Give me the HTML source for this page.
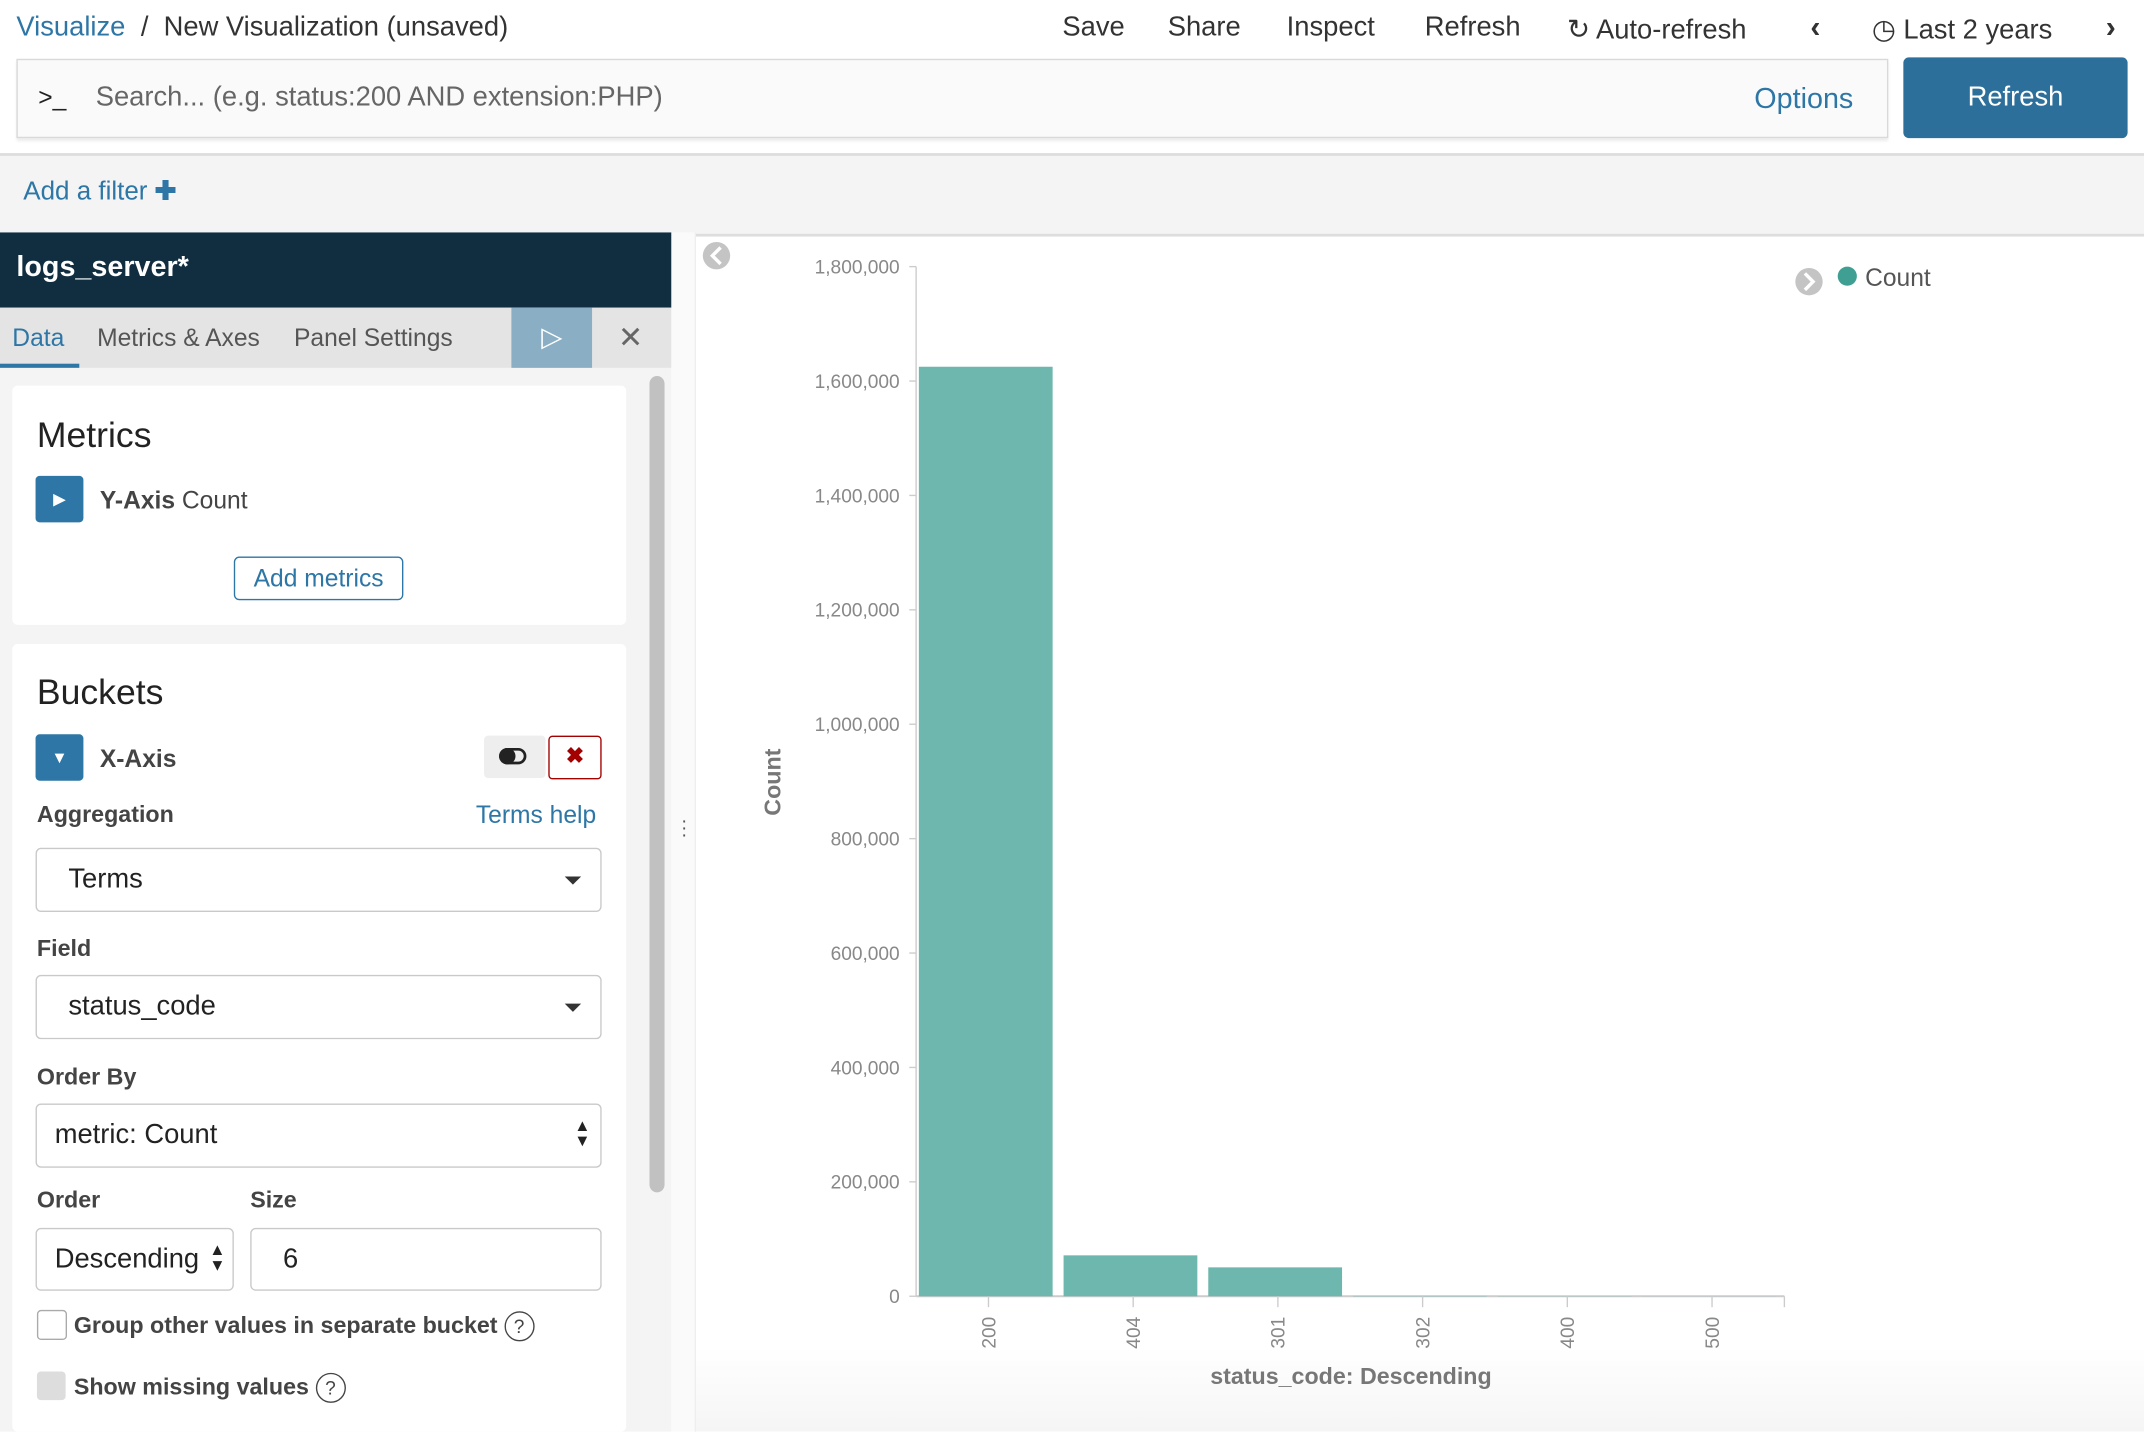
<!DOCTYPE html>
<html><head><meta charset="utf-8">
<style>
html,body{margin:0;padding:0;width:2144px;height:1432px;overflow:hidden;background:#fff}
#root{position:absolute;left:0;top:0;width:1568px;height:1047px;transform:scale(1.36735);transform-origin:0 0;font-family:"Liberation Sans",sans-serif;color:#333;background:#fff}
.a{position:absolute;white-space:nowrap}
.blue{color:#2d76a6}
.lbl{font-weight:bold;font-size:17px;color:#444}
.sel{position:absolute;border:1px solid #c9c9c9;border-radius:4px;background:#fff;font-size:20px;color:#222;box-sizing:border-box}
.caret{position:absolute;width:0;height:0;border-left:6px solid transparent;border-right:6px solid transparent;border-top:6px solid #333}
</style></head><body>
<div id="root">
  <!-- top bar -->
  <div class="a blue" style="left:12px;top:9px;font-size:20px">Visualize</div>
  <div class="a" style="left:103px;top:9px;font-size:20px;color:#333">/&nbsp; New Visualization (unsaved)</div>
  <div class="a" style="left:777px;top:9px;font-size:20px">Save</div>
  <div class="a" style="left:854px;top:9px;font-size:20px">Share</div>
  <div class="a" style="left:941px;top:9px;font-size:20px">Inspect</div>
  <div class="a" style="left:1042px;top:9px;font-size:20px">Refresh</div>
  <div class="a" style="left:1146px;top:9px;font-size:20px">&#8635; Auto-refresh</div>
  <div class="a" style="left:1324px;top:7px;font-size:22px;font-weight:bold">&#8249;</div>
  <div class="a" style="left:1369px;top:9px;font-size:20px">&#9719; Last 2 years</div>
  <div class="a" style="left:1540px;top:7px;font-size:22px;font-weight:bold">&#8250;</div>
  <!-- search -->
  <div class="a" style="left:12px;top:43px;width:1367px;height:56px;border:1px solid #d9d9d9;background:#fafafa;box-shadow:0 2px 2px rgba(0,0,0,.08)"></div>
  <div class="a" style="left:28px;top:61px;font-size:18px;color:#222">&gt;_</div>
  <div class="a" style="left:70px;top:60px;font-size:20px;color:#666">Search... (e.g. status:200 AND extension:PHP)</div>
  <div class="a blue" style="left:1283px;top:61px;font-size:21px">Options</div>
  <div class="a" style="left:1392px;top:42px;width:164px;height:59px;background:#2d6f9b;border-radius:4px;color:#fff;font-size:20px;text-align:center;line-height:59px">Refresh</div>
  <!-- filter bar -->
  <div class="a" style="left:0;top:112px;width:1568px;height:57px;background:#f4f4f4;border-top:2px solid #ddd;border-bottom:2px solid #ddd"></div>
  <div class="a blue" style="left:17px;top:129px;font-size:19px">Add a filter <b>&#10010;</b></div>
  <!-- sidebar -->
  <div class="a" style="left:0;top:170px;width:491px;height:877px;background:#f4f4f4"></div>
  <div class="a" style="left:0;top:170px;width:491px;height:55px;background:#112e40"></div>
  <div class="a" style="left:12px;top:184px;font-size:21px;font-weight:bold;color:#fff">logs_server*</div>
  <div class="a" style="left:0;top:225px;width:491px;height:44px;background:#e4e4e4"></div>
  <div class="a blue" style="left:9px;top:237px;font-size:18px">Data</div>
  <div class="a" style="left:0;top:266px;width:58px;height:3px;background:#2d76a6"></div>
  <div class="a" style="left:71px;top:237px;font-size:18px;color:#555">Metrics &amp; Axes</div>
  <div class="a" style="left:215px;top:237px;font-size:18px;color:#555">Panel Settings</div>
  <div class="a" style="left:374px;top:225px;width:59px;height:44px;background:#8aaec4;color:#fff;font-size:20px;text-align:center;line-height:44px">&#9655;</div>
  <div class="a" style="left:452px;top:234px;font-size:22px;color:#666">&#10005;</div>
  <div class="a" style="left:475px;top:275px;width:11px;height:597px;background:#c1c1c1;border-radius:6px"></div>
  <!-- metrics panel -->
  <div class="a" style="left:9px;top:282px;width:449px;height:175px;background:#fff;border-radius:4px"></div>
  <div class="a" style="left:27px;top:303px;font-size:26px;color:#222">Metrics</div>
  <div class="a" style="left:26px;top:348px;width:35px;height:34px;background:#2d76a6;border-radius:3px;color:#fff;text-align:center;line-height:34px;font-size:12px">&#9654;</div>
  <div class="a" style="left:73px;top:356px;font-size:18px;color:#444"><b>Y-Axis</b> Count</div>
  <div class="a" style="left:171px;top:407px;width:122px;height:30px;border:1px solid #2d76a6;border-radius:4px;color:#2d76a6;font-size:18px;text-align:center;line-height:30px">Add metrics</div>
  <!-- buckets panel -->
  <div class="a" style="left:9px;top:471px;width:449px;height:576px;background:#fff;border-radius:4px"></div>
  <div class="a" style="left:27px;top:491px;font-size:26px;color:#222">Buckets</div>
  <div class="a" style="left:26px;top:537px;width:35px;height:34px;background:#2d76a6;border-radius:3px;color:#fff;text-align:center;line-height:34px;font-size:12px">&#9660;</div>
  <div class="a lbl" style="left:73px;top:545px;font-size:18px">X-Axis</div>
  <div class="a" style="left:354px;top:538px;width:45px;height:31px;background:#eee;border-radius:3px"><div style="position:absolute;left:11px;top:9px;width:20px;height:12px;border:2px solid #222;border-radius:8px;box-sizing:border-box"></div><div style="position:absolute;left:11px;top:9px;width:12px;height:12px;background:#222;border-radius:6px"></div></div>
  <div class="a" style="left:401px;top:538px;width:37px;height:30px;border:1px solid #a30000;border-radius:3px;color:#a30000;text-align:center;line-height:30px;font-size:16px;font-weight:bold">&#10006;</div>
  <div class="a lbl" style="left:27px;top:586px">Aggregation</div>
  <div class="a blue" style="left:348px;top:586px;font-size:18px">Terms help</div>
  <div class="sel" style="left:26px;top:620px;width:414px;height:47px"><span style="position:absolute;left:23px;top:11px">Terms</span><div class="caret" style="left:386px;top:20px"></div></div>
  <div class="a lbl" style="left:27px;top:684px">Field</div>
  <div class="sel" style="left:26px;top:713px;width:414px;height:47px"><span style="position:absolute;left:23px;top:11px">status_code</span><div class="caret" style="left:386px;top:20px"></div></div>
  <div class="a lbl" style="left:27px;top:778px">Order By</div>
  <div class="sel" style="left:26px;top:807px;width:414px;height:47px"><span style="position:absolute;left:13px;top:11px">metric: Count</span><span style="position:absolute;left:393px;top:10px;font-size:12px;line-height:11px">&#9650;<br>&#9660;</span></div>
  <div class="a lbl" style="left:27px;top:868px">Order</div>
  <div class="a lbl" style="left:183px;top:868px">Size</div>
  <div class="sel" style="left:26px;top:898px;width:145px;height:46px;overflow:hidden"><span style="position:absolute;left:13px;top:11px">Descending</span><span style="position:absolute;left:126px;top:10px;font-size:12px;line-height:11px;background:#fff">&#9650;<br>&#9660;</span></div>
  <div class="sel" style="left:183px;top:898px;width:257px;height:46px"><span style="position:absolute;left:23px;top:11px">6</span></div>
  <div class="a" style="left:27px;top:958px;width:20px;height:20px;border:1px solid #aaa;border-radius:3px;background:#fff"></div>
  <div class="a lbl" style="left:54px;top:959px">Group other values in separate bucket <span style="display:inline-block;width:20px;height:20px;border:1.5px solid #444;border-radius:50%;text-align:center;line-height:20px;font-size:14px;font-weight:normal">?</span></div>
  <div class="a" style="left:27px;top:1003px;width:21px;height:21px;border-radius:3px;background:#ddd"></div>
  <div class="a lbl" style="left:54px;top:1004px">Show missing values <span style="display:inline-block;width:20px;height:20px;border:1.5px solid #444;border-radius:50%;text-align:center;line-height:20px;font-size:14px;font-weight:normal">?</span></div>
  <!-- resize handle -->
  <div class="a" style="left:491px;top:170px;width:17px;height:877px;background:#fafafa;border-right:1px solid #eee"></div>
  <div class="a" style="left:498px;top:598px;font-size:14px;color:#555;line-height:5px">&#183;<br>&#183;<br>&#183;</div>
  <!-- chart -->
  <svg class="a" id="chart" style="left:0;top:0" width="1568" height="1047">
    <defs><linearGradient id="fade" x1="0" y1="0" x2="0" y2="1"><stop offset="0" stop-color="#fff"/><stop offset="1" stop-color="#f5f5f5"/></linearGradient></defs>
    <rect x="509" y="985" width="1059" height="62" fill="url(#fade)"/>
    <g id="plot"></g>
  </svg>
</div>
<script>
const categories=["200","404","301","302","400","500"];
const counts=[1625000,71500,50500,600,300,100];
const yTicks=[0,200000,400000,600000,800000,1000000,1200000,1400000,1600000,1800000];
const yTickLabels=["0","200,000","400,000","600,000","800,000","1,000,000","1,200,000","1,400,000","1,600,000","1,800,000"];
const yMax=1800000;
const X0=670,X1=1305,Y0=948,Y1=195;
const NS="http://www.w3.org/2000/svg";
const g=document.getElementById('plot');
function y(v){return Y0-(v/yMax)*(Y0-Y1);}
const band=(X1-X0)/categories.length;
function x(i){return X0+i*band;}
function mk(tag,attrs,txt){const e=document.createElementNS(NS,tag);for(const k in attrs)e.setAttribute(k,attrs[k]);if(txt!==undefined)e.textContent=txt;g.appendChild(e);return e;}
// axes
let e=mk('line',{x1:X0,y1:Y1,x2:X0,y2:Y0,stroke:'#ccc','stroke-width':1});


e=mk('line',{x1:X0,y1:Y0,x2:X1,y2:Y0,stroke:'#ccc','stroke-width':1.5});


yTicks.forEach((t,i)=>{
  let l=mk('line',{x1:X0-5,y1:y(t),x2:X0,y2:y(t),stroke:'#ccc'});
  
  
  let tx=mk('text',{x:X0-12,y:y(t)+5,'text-anchor':'end','font-size':14,fill:'#888','font-family':'Liberation Sans, sans-serif'},yTickLabels[i]);
  
  
});
categories.forEach((c,i)=>{
  const bx=x(i)+2,bw=band-8;
  let r=mk('rect',{x:bx,y:y(counts[i]),width:bw,height:Y0-y(counts[i]),fill:'#6db7ae'});
  
  
  const cx=x(i)+band/2;
  let l=mk('line',{x1:cx,y1:Y0,x2:cx,y2:Y0+8,stroke:'#ccc'});
  
  
  let tx=mk('text',{x:cx+5,y:Y0+15,'text-anchor':'end','font-size':14,fill:'#888','font-family':'Liberation Sans, sans-serif',transform:`rotate(-90 ${cx+5} ${Y0+15})`},c);
  
  
});
e=mk('line',{x1:X1,y1:Y0,x2:X1,y2:Y0+8,stroke:'#ccc'});


e=mk('text',{x:988,y:1012,'text-anchor':'middle','font-size':17,'font-weight':'bold',fill:'#777','font-family':'Liberation Sans, sans-serif'},'status_code: Descending');


e=mk('text',{x:571,y:572,'text-anchor':'middle','font-size':17,'font-weight':'bold',fill:'#777','font-family':'Liberation Sans, sans-serif',transform:'rotate(-90 571 572)'},'Count');


// legend
e=mk('circle',{cx:1323,cy:206,r:10,fill:'#c4c4c4'});


e=mk('path',{d:'M1320 200 L1326 206 L1320 212',stroke:'#fff','stroke-width':2.5,fill:'none'});


e=mk('circle',{cx:1351,cy:202,r:7,fill:'#3f9f92'});


e=mk('text',{x:1364,y:209,'font-size':18,fill:'#555','font-family':'Liberation Sans, sans-serif'},'Count');


e=mk('circle',{cx:524,cy:187,r:10,fill:'#c4c4c4'});


e=mk('path',{d:'M527 181 L521 187 L527 193',stroke:'#fff','stroke-width':2.5,fill:'none'});


</script>
</body></html>
